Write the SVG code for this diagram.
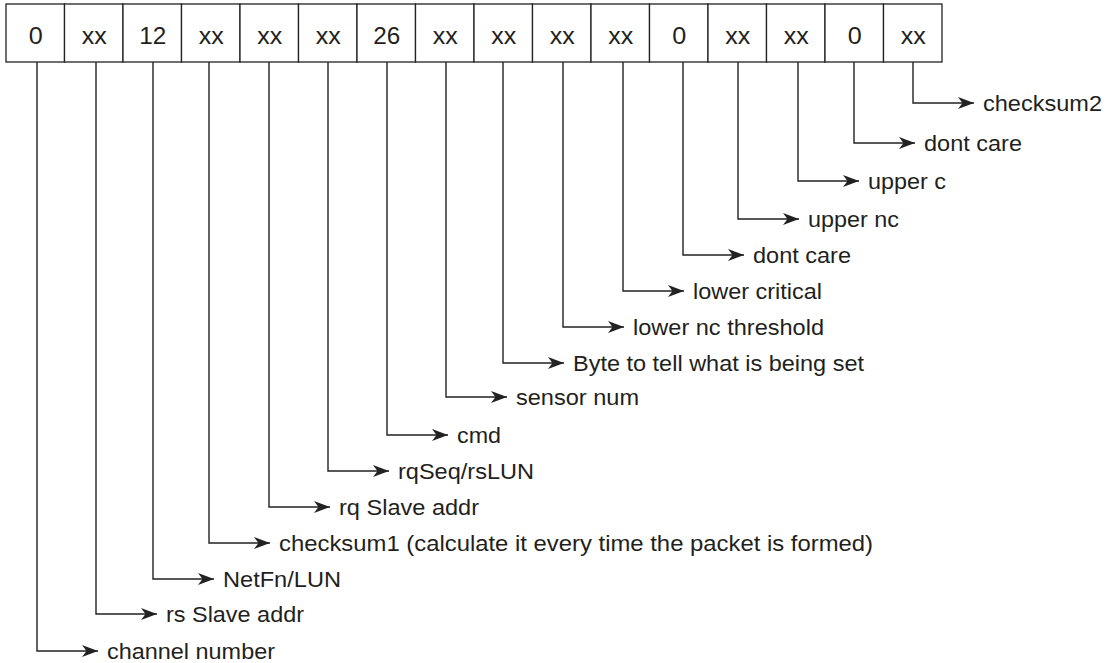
<svg xmlns="http://www.w3.org/2000/svg" width="1109" height="663" viewBox="0 0 1109 663">
<style>
.cell{fill:#fff;stroke:#222;stroke-width:1.3}
.ct{font-family:"Liberation Sans",Arial,sans-serif;font-size:23px;fill:#231f20;text-anchor:middle}
.lb{font-family:"Liberation Sans",Arial,sans-serif;font-size:22px;fill:#231f20}
.con{fill:none;stroke:#222;stroke-width:1.4;marker-end:url(#ah)}
</style>
<defs>
<marker id="ah" markerUnits="userSpaceOnUse" markerWidth="18" markerHeight="14" viewBox="-17 -7 18 14" refX="0" refY="0" orient="auto">
<path d="M0,0 L-16,-6 L-11.5,0 L-16,6 Z" fill="#222"/>
</marker>
</defs>
<rect width="1109" height="663" fill="#fff"/>
<g id="cells">
<g id="cell0"><rect class="cell" x="6" y="4" width="58.5" height="58"/><text class="ct" x="35.75" y="44" textLength="14" lengthAdjust="spacingAndGlyphs">0</text></g>
<g id="cell1"><rect class="cell" x="64.5" y="4" width="58.5" height="58"/><text class="ct" x="94.25" y="44" textLength="25" lengthAdjust="spacingAndGlyphs">xx</text></g>
<g id="cell2"><rect class="cell" x="123" y="4" width="58.5" height="58"/><text class="ct" x="152.75" y="44" textLength="27" lengthAdjust="spacingAndGlyphs">12</text></g>
<g id="cell3"><rect class="cell" x="181.5" y="4" width="58.5" height="58"/><text class="ct" x="211.25" y="44" textLength="25" lengthAdjust="spacingAndGlyphs">xx</text></g>
<g id="cell4"><rect class="cell" x="240" y="4" width="58.5" height="58"/><text class="ct" x="269.75" y="44" textLength="25" lengthAdjust="spacingAndGlyphs">xx</text></g>
<g id="cell5"><rect class="cell" x="298.5" y="4" width="58.5" height="58"/><text class="ct" x="328.25" y="44" textLength="25" lengthAdjust="spacingAndGlyphs">xx</text></g>
<g id="cell6"><rect class="cell" x="357" y="4" width="58.5" height="58"/><text class="ct" x="386.75" y="44" textLength="27" lengthAdjust="spacingAndGlyphs">26</text></g>
<g id="cell7"><rect class="cell" x="415.5" y="4" width="58.5" height="58"/><text class="ct" x="445.25" y="44" textLength="25" lengthAdjust="spacingAndGlyphs">xx</text></g>
<g id="cell8"><rect class="cell" x="474" y="4" width="58.5" height="58"/><text class="ct" x="503.75" y="44" textLength="25" lengthAdjust="spacingAndGlyphs">xx</text></g>
<g id="cell9"><rect class="cell" x="532.5" y="4" width="58.5" height="58"/><text class="ct" x="562.25" y="44" textLength="25" lengthAdjust="spacingAndGlyphs">xx</text></g>
<g id="cell10"><rect class="cell" x="591" y="4" width="58.5" height="58"/><text class="ct" x="620.75" y="44" textLength="25" lengthAdjust="spacingAndGlyphs">xx</text></g>
<g id="cell11"><rect class="cell" x="649.5" y="4" width="58.5" height="58"/><text class="ct" x="679.25" y="44" textLength="14" lengthAdjust="spacingAndGlyphs">0</text></g>
<g id="cell12"><rect class="cell" x="708" y="4" width="58.5" height="58"/><text class="ct" x="737.75" y="44" textLength="25" lengthAdjust="spacingAndGlyphs">xx</text></g>
<g id="cell13"><rect class="cell" x="766.5" y="4" width="58.5" height="58"/><text class="ct" x="796.25" y="44" textLength="25" lengthAdjust="spacingAndGlyphs">xx</text></g>
<g id="cell14"><rect class="cell" x="825" y="4" width="58.5" height="58"/><text class="ct" x="854.75" y="44" textLength="14" lengthAdjust="spacingAndGlyphs">0</text></g>
<g id="cell15"><rect class="cell" x="883.5" y="4" width="58.5" height="58"/><text class="ct" x="913.25" y="44" textLength="25" lengthAdjust="spacingAndGlyphs">xx</text></g>
</g>
<g id="connectors">
<path class="con" d="M37,62 V651 H98"/>
<path class="con" d="M96,62 V614 H157"/>
<path class="con" d="M153,62 V579 H214"/>
<path class="con" d="M209,62 V543 H270"/>
<path class="con" d="M269,62 V507 H330"/>
<path class="con" d="M328,62 V471 H389"/>
<path class="con" d="M387,62 V435 H448"/>
<path class="con" d="M446,62 V397 H507"/>
<path class="con" d="M503,62 V363 H564"/>
<path class="con" d="M563,62 V327 H624"/>
<path class="con" d="M623,62 V291 H684"/>
<path class="con" d="M683,62 V255 H744"/>
<path class="con" d="M738,62 V219 H799"/>
<path class="con" d="M798,62 V181 H859"/>
<path class="con" d="M854,62 V143 H915"/>
<path class="con" d="M913,62 V103 H974"/>
</g>
<g id="label0"><text class="lb" x="107" y="659" textLength="168" lengthAdjust="spacingAndGlyphs">channel number</text></g>
<g id="label1"><text class="lb" x="166" y="622" textLength="138" lengthAdjust="spacingAndGlyphs">rs Slave addr</text></g>
<g id="label2"><text class="lb" x="223" y="587" textLength="118" lengthAdjust="spacingAndGlyphs">NetFn/LUN</text></g>
<g id="label3"><text class="lb" x="279" y="551" textLength="594" lengthAdjust="spacingAndGlyphs">checksum1 (calculate it every time the packet is formed)</text></g>
<g id="label4"><text class="lb" x="339" y="515" textLength="140" lengthAdjust="spacingAndGlyphs">rq Slave addr</text></g>
<g id="label5"><text class="lb" x="398" y="479" textLength="136" lengthAdjust="spacingAndGlyphs">rqSeq/rsLUN</text></g>
<g id="label6"><text class="lb" x="457" y="443" textLength="44" lengthAdjust="spacingAndGlyphs">cmd</text></g>
<g id="label7"><text class="lb" x="516" y="405" textLength="123" lengthAdjust="spacingAndGlyphs">sensor num</text></g>
<g id="label8"><text class="lb" x="573" y="371" textLength="291" lengthAdjust="spacingAndGlyphs">Byte to tell what is being set</text></g>
<g id="label9"><text class="lb" x="633" y="335" textLength="191" lengthAdjust="spacingAndGlyphs">lower nc threshold</text></g>
<g id="label10"><text class="lb" x="693" y="299" textLength="129" lengthAdjust="spacingAndGlyphs">lower critical</text></g>
<g id="label11"><text class="lb" x="753" y="263" textLength="98" lengthAdjust="spacingAndGlyphs">dont care</text></g>
<g id="label12"><text class="lb" x="808" y="227" textLength="91" lengthAdjust="spacingAndGlyphs">upper nc</text></g>
<g id="label13"><text class="lb" x="868" y="189" textLength="78" lengthAdjust="spacingAndGlyphs">upper c</text></g>
<g id="label14"><text class="lb" x="924" y="151" textLength="98" lengthAdjust="spacingAndGlyphs">dont care</text></g>
<g id="label15"><text class="lb" x="983" y="111" textLength="119" lengthAdjust="spacingAndGlyphs">checksum2</text></g>
</svg>
